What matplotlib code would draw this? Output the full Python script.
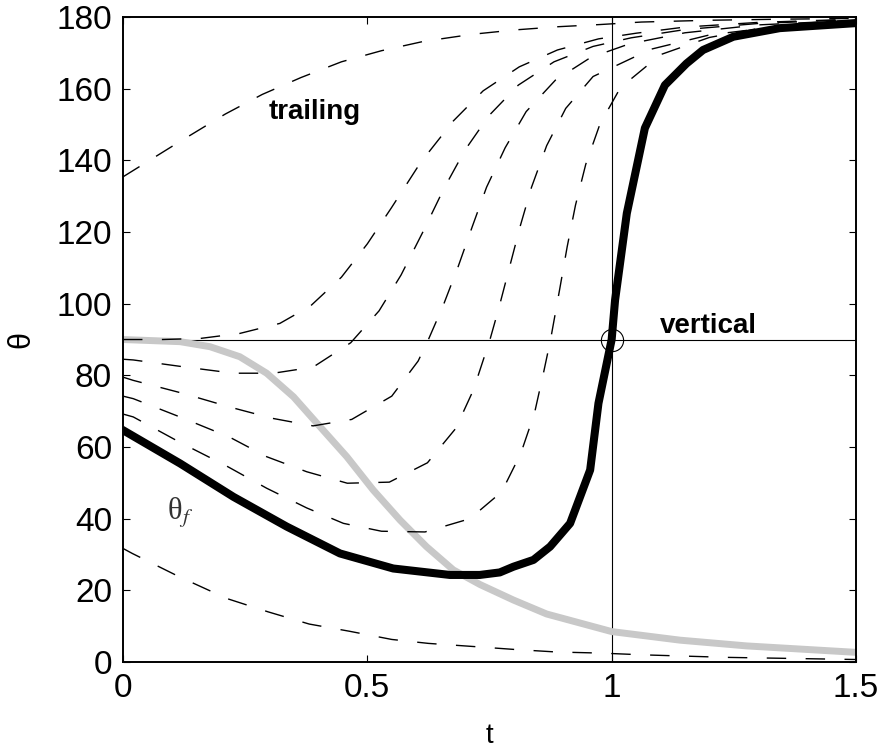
import matplotlib
matplotlib.use("Agg")
import matplotlib.pyplot as plt

# values (t, theta in degrees)
t_main = [0, 0.117, 0.226, 0.335, 0.444, 0.553, 0.669, 0.730, 0.771, 0.799, 0.840,
          0.874, 0.915, 0.956, 0.973, 1.0, 1.007, 1.031, 1.068, 1.109, 1.153, 1.187,
          1.249, 1.344, 1.5]
theta_main = [64.7, 55.4, 46.1, 37.8, 30.3, 26.1, 24.3, 24.3, 25.0, 26.6, 28.5,
              32.2, 38.7, 53.6, 72.2, 90, 101, 125.2, 149, 161, 167, 170.8,
              174.5, 176.9, 178.3]

t_f = [0, 0.117, 0.178, 0.239, 0.294, 0.349, 0.403, 0.458, 0.512, 0.567, 0.621,
       0.676, 0.731, 0.799, 0.867, 1.0, 1.14, 1.276, 1.5]
theta_f = [90, 89.4, 88.0, 85.2, 80.6, 74.0, 65.7, 57.3, 48.0, 39.6, 32.2,
           25.7, 21.6, 17.3, 13.4, 8.5, 6.1, 4.5, 2.7]

# dashed trajectories for other initial angles
t_a = [0, 0.111, 0.209, 0.285, 0.364, 0.447, 0.529, 0.615, 0.716, 0.802, 0.891,
       0.976, 1.061, 1.2, 1.35, 1.5]
theta_a = [135.4, 144.8, 152.9, 158.4, 163.1, 167.5, 170.6, 173.2, 175.2, 176.4, 177.3,
           177.9, 178.6, 179.1, 179.4, 179.6]

t_b = [0, 0.08, 0.158, 0.239, 0.321, 0.384, 0.447, 0.500, 0.549, 0.609, 0.676,
       0.737, 0.811, 0.889, 0.973, 1.051, 1.15, 1.3, 1.5]
theta_b = [90, 90.0, 90.3, 91.7, 94.5, 99.4, 107.4, 116.7, 126.7, 139.4, 151,
           159.4, 166.1, 170.8, 173.9, 175.5, 177.2, 178.5, 179.4]

t_c = [0, 0.021, 0.123, 0.226, 0.308, 0.389, 0.466, 0.524, 0.569, 0.614, 0.657,
       0.700, 0.749, 0.809, 0.882, 0.962, 1.04, 1.15, 1.3, 1.5]
theta_c = [84.5, 84.3, 82.4, 80.6, 80.6, 82.3, 89.1, 98, 108, 120.1, 132.2,
           142.9, 152.5, 161.0, 167.5, 171.8, 174.2, 176.5, 178.2, 179.3]

t_d = [0, 0.021, 0.122, 0.220, 0.306, 0.389, 0.468, 0.550, 0.604, 0.625, 0.655,
       0.686, 0.715, 0.744, 0.782, 0.825, 0.885, 0.957, 1.036, 1.15, 1.3, 1.5]
theta_d = [79.5, 78.6, 75.0, 71.1, 68.0, 65.9, 67.7, 74.2, 84.0, 90, 99.4,
           110.4, 121.6, 132.5, 143.5, 153.6, 162.4, 168.7, 172.5, 175.6, 177.8, 179.1]

t_e = [0, 0.021, 0.122, 0.219, 0.294, 0.376, 0.459, 0.545, 0.623, 0.681, 0.717,
       0.751, 0.769, 0.791, 0.813, 0.836, 0.867, 0.906, 0.962, 1.08, 1.2, 1.35, 1.5]
theta_e = [74.2, 73.5, 68.1, 62.7, 57.3, 53.1, 49.9, 50.2, 55.6, 65.2, 75.9,
           90, 98.7, 110.2, 121.7, 132.5, 144.1, 154.5, 163.4, 171, 175, 177.5, 178.9]

t_g = [0, 0.021, 0.118, 0.212, 0.294, 0.376, 0.451, 0.529, 0.618, 0.710, 0.775,
       0.814, 0.842, 0.861, 0.875, 0.894, 0.909, 0.926, 0.947, 0.976, 1.018, 1.1,
       1.2, 1.3, 1.5]
theta_g = [69.2, 68.4, 61.2, 54.7, 48.5, 43.0, 38.7, 36.5, 36.3, 40.0, 47.5,
           58.2, 69.4, 81.0, 90, 104.3, 115.9, 127.5, 138.9, 150.1, 160.3, 169.5,
           174.3, 176.8, 178.8]

t_h = [0, 0.019, 0.115, 0.213, 0.297, 0.381, 0.463, 0.550, 0.625, 0.720, 0.802,
       0.887, 0.976, 1.065, 1.235, 1.5]
theta_h = [31.7, 30.3, 23.8, 17.7, 14.0, 10.6, 8.6, 6.3, 5.2, 4.3, 3.5,
           2.8, 2.5, 2.0, 1.3, 0.7]

dashed = [(t_a, theta_a), (t_b, theta_b), (t_c, theta_c), (t_d, theta_d),
          (t_e, theta_e), (t_g, theta_g), (t_h, theta_h)]

x_ticks = [0, 0.5, 1, 1.5]
x_ticklabels = ['0', '0.5', '1', '1.5']
y_ticks = list(range(0, 181, 20))

plt.rcParams['font.family'] = ['Liberation Sans', 'DejaVu Sans']
plt.rcParams['mathtext.fontset'] = 'stix'

fig = plt.figure(figsize=(8.83, 7.5), dpi=100)
ax = fig.add_axes([0.1393, 0.1173, 0.8301, 0.86])

# reference lines: vertical orientation and t = 1
ax.axhline(90, color='k', linewidth=0.8, zorder=1)
ax.axvline(1, color='k', linewidth=0.8, zorder=1)

ax.plot(t_f, theta_f, color='#c8c8c8', linewidth=5, solid_joinstyle='round',
        solid_capstyle='butt', zorder=2)

for tt, th in dashed:
    ax.plot(tt, th, color='k', linewidth=1.0, dashes=(14, 14), zorder=3)

ax.plot(t_main, theta_main, color='k', linewidth=5.8, solid_joinstyle='round', zorder=4)
ax.plot([1], [90], marker='o', markersize=16, markerfacecolor='none',
        markeredgecolor='k', markeredgewidth=0.8, zorder=5, clip_on=False)

ax.text(0.297, 151.5, 'trailing', fontsize=20, fontweight='bold', va='baseline', ha='left')
ax.text(1.099, 91.8, 'vertical', fontsize=20, fontweight='bold', va='baseline', ha='left')
ax.text(0.09, 39.6, 'θ$_{f}$', fontsize=22, color='#333333',
        family=['Liberation Serif', 'DejaVu Serif'], va='baseline', ha='left')

ax.set_xlim(0, 1.5)
ax.set_ylim(0, 180)
ax.set_xticks(x_ticks)
ax.set_xticklabels(x_ticklabels)
ax.set_yticks(y_ticks)
ax.tick_params(direction='in', top=True, right=True, length=5, width=0.8,
               labelsize=24, pad=8)
for sp in ax.spines.values():
    sp.set_linewidth(1.4)

ax.set_xlabel('t', fontsize=20)
ax.set_ylabel('θ', fontsize=22)
ax.xaxis.set_label_coords(0.5, -0.095)
ax.yaxis.set_label_coords(-0.118, 0.5)

fig.savefig('out.png', dpi=100)
